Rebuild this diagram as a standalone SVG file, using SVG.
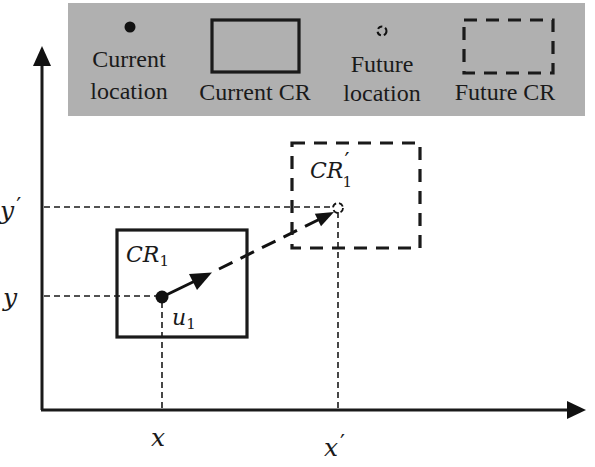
<svg xmlns="http://www.w3.org/2000/svg" width="595" height="467" viewBox="0 0 595 467">
<style>
.lt{font-family:"Liberation Serif","Times New Roman",serif;font-size:24px;fill:#1a1a1a;text-anchor:middle}
.m{font-family:"DejaVu Serif",serif;font-style:italic;font-size:22px;fill:#1a1a1a}
.xy{font-size:25px}
.sub{font-family:"DejaVu Serif",serif;font-style:normal;font-size:15px;fill:#1a1a1a}
.pr{font-family:"DejaVu Sans",sans-serif;font-style:normal;font-size:22px;fill:#1a1a1a}
.thin{stroke:#1a1a1a;stroke-width:1.6;stroke-dasharray:6 4;fill:none}
.cr{fill:none;stroke:#1a1a1a;stroke-width:3.2}
.fcr{fill:none;stroke:#1a1a1a;stroke-width:3.2;stroke-dasharray:13 9}
</style>
<rect width="595" height="467" fill="#ffffff"/>
<g id="legend">
<rect x="68" y="3" width="517" height="113" fill="#b0b0b0"/>
<circle cx="130" cy="27" r="5.5" fill="#111"/>
<text class="lt" x="129" y="67">Current</text>
<text class="lt" x="129" y="99">location</text>
<rect class="cr" x="212" y="20" width="87" height="52"/>
<text class="lt" x="255" y="100">Current CR</text>
<circle cx="382" cy="31" r="4.5" fill="none" stroke="#111" stroke-width="2" stroke-dasharray="5 3"/>
<text class="lt" x="382" y="72">Future</text>
<text class="lt" x="382" y="101">location</text>
<rect class="fcr" x="464" y="20" width="89" height="53"/>
<text class="lt" x="505" y="100">Future CR</text>
</g>
<g id="axes">
<line x1="42" y1="410" x2="42" y2="62" stroke="#1a1a1a" stroke-width="3"/>
<polygon points="42,46 33,66 51,66" fill="#111"/>
<line x1="41" y1="410" x2="570" y2="410" stroke="#1a1a1a" stroke-width="3"/>
<polygon points="586,410 567,401 567,419" fill="#111"/>
</g>
<g id="connectors">
<line class="thin" x1="44" y1="207" x2="334" y2="207"/>
<line class="thin" x1="44" y1="296" x2="158" y2="296"/>
<line class="thin" x1="162" y1="302" x2="162" y2="409"/>
<line class="thin" x1="338" y1="212" x2="338" y2="409"/>
<line x1="162" y1="297" x2="195" y2="281" stroke="#111" stroke-width="3"/>
<polygon points="212,272.5 197,290 189,274" fill="#111"/>
<line x1="219" y1="269" x2="320" y2="219" stroke="#111" stroke-width="3" stroke-dasharray="15 9"/>
<polygon points="334,212 321,226.3 314.8,213.7" fill="#111"/>
</g>
<g id="cr1">
<rect class="cr" x="117" y="230" width="130" height="107"/>
<text class="m" x="126" y="262">CR<tspan class="sub" dy="4">1</tspan></text>
</g>
<g id="u1">
<circle cx="162" cy="297" r="6.5" fill="#111"/>
<text class="m" x="172" y="325">u<tspan class="sub" dy="4">1</tspan></text>
</g>
<g id="cr1p">
<rect class="fcr" x="292" y="143" width="128" height="105"/>
<text class="m" x="310" y="178">CR<tspan class="pr" dx="1" dy="-10">′</tspan><tspan class="sub" dx="-7" dy="19">1</tspan></text>
</g>
<g id="future">
<circle cx="338" cy="208" r="5" fill="none" stroke="#111" stroke-width="1.8" stroke-dasharray="5 3"/>
</g>
<g id="labels">
<text class="m xy" x="0" y="219">y<tspan class="pr" dx="2" dy="-6">′</tspan></text>
<text class="m xy" x="3" y="306">y</text>
<text class="m xy" x="151" y="446">x</text>
<text class="m xy" x="324" y="456">x<tspan class="pr" dx="2" dy="-6">′</tspan></text>
</g>
</svg>
